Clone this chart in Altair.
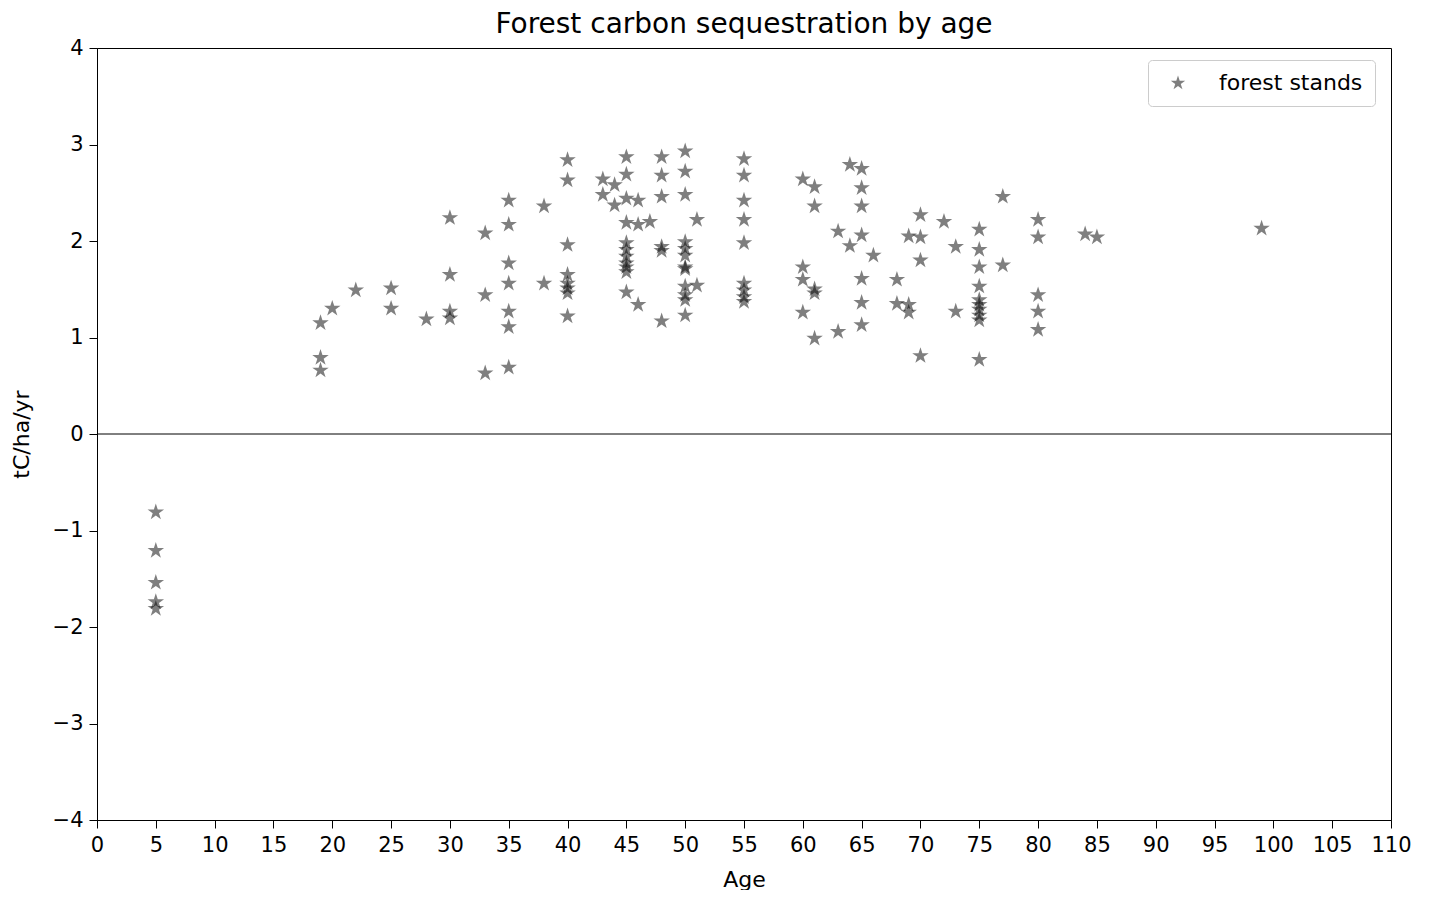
import altair as alt
import pandas as pd

# ---- data ----
ages = (
    [5] * 5
    + [19] * 3
    + [20, 22]
    + [25] * 2
    + [28]
    + [30] * 4
    + [33] * 3
    + [35] * 7
    + [38] * 2
    + [40] * 8
    + [43] * 2
    + [44] * 2
    + [45] * 11
    + [46] * 3
    + [47]
    + [48] * 6
    + [50] * 12
    + [51] * 2
    + [55] * 9
    + [60] * 4
    + [61] * 5
    + [63] * 2
    + [64] * 2
    + [65] * 7
    + [66]
    + [68] * 2
    + [69] * 3
    + [70] * 4
    + [72]
    + [73] * 2
    + [75] * 10
    + [77] * 2
    + [80] * 5
    + [84, 85, 99]
)
values = [
    -0.81, -1.21, -1.54, -1.74, -1.81,            # 5
    1.15, 0.79, 0.66,                              # 19
    1.30, 1.49,                                    # 20, 22
    1.51, 1.30,                                    # 25
    1.19,                                          # 28
    2.24, 1.65, 1.27, 1.20,                        # 30
    2.08, 1.44, 0.63,                              # 33
    2.42, 2.17, 1.77, 1.56, 1.27, 1.11, 0.69,      # 35
    2.36, 1.56,                                    # 38
    2.84, 2.63, 1.96, 1.65, 1.56, 1.51, 1.46, 1.22,  # 40
    2.64, 2.48,                                    # 43
    2.58, 2.37,                                    # 44
    2.87, 2.69, 2.44, 2.19, 1.98, 1.91, 1.84, 1.77, 1.73, 1.68, 1.47,  # 45
    2.42, 2.17, 1.34,                              # 46
    2.20,                                          # 47
    2.87, 2.68, 2.46, 1.94, 1.90, 1.17,            # 48
    2.93, 2.72, 2.48, 1.99, 1.92, 1.85, 1.73, 1.71, 1.53, 1.44, 1.39, 1.23,  # 50
    2.22, 1.54,                                    # 51
    2.85, 2.68, 2.42, 2.22, 1.98, 1.56, 1.49, 1.42, 1.37,  # 55
    2.64, 1.73, 1.60, 1.26,                        # 60
    2.56, 2.36, 1.50, 1.46, 0.99,                  # 61
    2.10, 1.06,                                    # 63
    2.79, 1.95,                                    # 64
    2.75, 2.55, 2.36, 2.06, 1.61, 1.36, 1.13,      # 65
    1.85,                                          # 66
    1.60, 1.35,                                    # 68
    2.05, 1.34, 1.26,                              # 69
    2.27, 2.04, 1.80, 0.81,                        # 70
    2.20,                                          # 72
    1.94, 1.27,                                    # 73
    2.12, 1.91, 1.73, 1.53, 1.39, 1.34, 1.29, 1.23, 1.18, 0.77,  # 75
    2.46, 1.75,                                    # 77
    2.22, 2.04, 1.44, 1.27, 1.08,                  # 80
    2.07, 2.04, 2.13,                              # 84, 85, 99
]
series_name = "forest stands"
x_ticks = list(range(0, 111, 5))
y_ticks = list(range(-4, 5))
zero_line = [0]
chart_title = "Forest carbon sequestration by age"
x_title = "Age"
y_title = "tC/ha/yr"

# ---- styling ----
FONT = "DejaVu Sans"
W, H = 1294, 772
STAR = ("M0,-1L0.2245,-0.309L0.9511,-0.309L0.3633,0.118L0.5878,0.809"
        "L0,0.382L-0.5878,0.809L-0.3633,0.118L-0.9511,-0.309L-0.2245,-0.309Z")

df = pd.DataFrame({"age": ages, "value": values, "series": [series_name] * len(ages)})
zero_df = pd.DataFrame({"y": zero_line})

x_scale = alt.Scale(domain=[0, 110], nice=False, zero=False)
y_scale = alt.Scale(domain=[-4, 4], nice=False, zero=False)

common_axis = dict(
    grid=False,
    labelFont=FONT,
    labelFontSize=21,
    labelColor="black",
    labelFlush=False,
    labelOverlap=False,
    tickColor="black",
    tickSize=8,
    tickWidth=1,
    domainColor="black",
    domainWidth=1,
    titleFont=FONT,
    titleFontSize=22,
    titleFontWeight="normal",
    titleColor="black",
    format="d",
)

legend = alt.Legend(
    orient="none",
    legendX=1051,
    legendY=12,
    padding=12,
    strokeColor="#cccccc",
    fillColor="white",
    cornerRadius=4,
    labelFont=FONT,
    labelFontSize=22,
    labelColor="black",
    labelOffset=30,
    symbolSize=230,
    symbolOpacity=0.5,
    symbolOffset=7,
)

points = alt.Chart(df).mark_point(filled=True, size=300, opacity=0.5).encode(
    x=alt.X(
        "age:Q",
        scale=x_scale,
        axis=alt.Axis(values=x_ticks, title=x_title, labelPadding=6,
                      titleX=647, titleY=49, titleBaseline="top", **common_axis),
    ),
    y=alt.Y(
        "value:Q",
        scale=y_scale,
        axis=alt.Axis(values=y_ticks, title=y_title, labelPadding=6,
                      titleX=-76, titleY=386, titleAngle=-90,
                      titleBaseline="middle", titleAlign="center", **common_axis),
    ),
    color=alt.Color("series:N", scale=alt.Scale(range=["black"]), legend=legend, title=None),
    shape=alt.Shape("series:N", scale=alt.Scale(range=[STAR]), legend=legend, title=None),
)

rule = alt.Chart(zero_df).mark_rule(color="black", strokeWidth=1).encode(
    y=alt.Y("y:Q", scale=y_scale),
)

chart = (
    alt.layer(rule, points)
    .properties(
        width=W,
        height=H,
        title=alt.TitleParams(
            chart_title, font=FONT, fontSize=28, fontWeight="normal",
            color="black", anchor="middle", offset=-2,
        ),
        autosize=alt.AutoSizeParams(type="none"),
        padding={"left": 89, "top": 40, "right": 33, "bottom": 70},
    )
    .configure(background="white")
    .configure_view(stroke="black", strokeWidth=1)
)

chart.save("out.html", embed_options={"renderer": "svg", "actions": False})
